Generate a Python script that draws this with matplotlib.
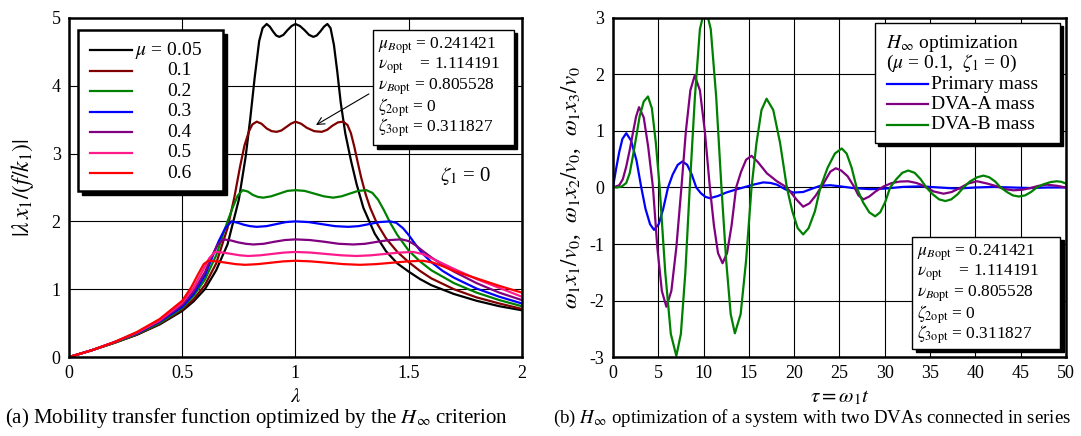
import numpy as np
import matplotlib
matplotlib.use("Agg")
import matplotlib.pyplot as plt
from matplotlib.patches import Rectangle

plt.rcParams['font.family'] = ['Liberation Serif', 'DejaVu Serif']
plt.rcParams['mathtext.fontset'] = 'stix'
plt.rcParams['axes.unicode_minus'] = False
plt.rcParams['font.size'] = 13

# ---- (a) mobility transfer function ----
mu_labels = ["$\\mu$ = 0.05", "0.1", "0.2", "0.3", "0.4", "0.5", "0.6"]
mu_colors = ["black", "#800000", "#008000", "#0000ff", "#800080", "#ff1a8c", "#ff0000"]

lam_005 = [0, 0.1, 0.2, 0.3, 0.4, 0.5, 0.55, 0.6, 0.65, 0.7, 0.75, 0.78, 0.8, 0.82, 0.84, 0.855,
           0.873, 0.887, 0.901, 0.915, 0.929, 0.947, 0.965, 0.983, 1.0, 1.02, 1.04, 1.06, 1.079,
           1.094, 1.11, 1.126, 1.141, 1.155, 1.17, 1.185, 1.2, 1.22, 1.245, 1.27, 1.3, 1.35, 1.4,
           1.45, 1.5, 1.55, 1.6, 1.7, 1.8, 1.9, 2.0]
amp_005 = [0, 0.1, 0.21, 0.33, 0.48, 0.68, 0.82, 1.0, 1.28, 1.66, 2.32, 2.95, 3.5, 4.12, 4.66, 4.85,
           4.91, 4.87, 4.8, 4.74, 4.72, 4.75, 4.82, 4.88, 4.91, 4.88, 4.82, 4.75, 4.72,
           4.74, 4.8, 4.87, 4.91, 4.85, 4.6, 4.2, 3.75, 3.3, 2.9, 2.55, 2.2, 1.82, 1.56,
           1.38, 1.26, 1.15, 1.06, 0.93, 0.83, 0.75, 0.69]

lam_01 = [0, 0.1, 0.2, 0.3, 0.4, 0.5, 0.55, 0.6, 0.65, 0.7, 0.73, 0.755, 0.775, 0.795, 0.81, 0.829,
          0.85, 0.873, 0.895, 0.917, 0.938, 0.959, 0.98, 1.0, 1.025, 1.05, 1.083, 1.116, 1.14, 1.163,
          1.188, 1.211, 1.23, 1.245, 1.26, 1.275, 1.29, 1.31, 1.33, 1.36, 1.4, 1.45, 1.5, 1.55, 1.6,
          1.7, 1.8, 1.9, 2.0]
amp_01 = [0, 0.1, 0.21, 0.33, 0.49, 0.70, 0.85, 1.06, 1.38, 1.9, 2.35, 2.8, 3.12, 3.33, 3.43, 3.47,
          3.44, 3.37, 3.33, 3.32, 3.34, 3.39, 3.44, 3.47, 3.44, 3.38, 3.33, 3.32, 3.35, 3.41,
          3.46, 3.47, 3.42, 3.3, 3.1, 2.87, 2.65, 2.4, 2.2, 1.97, 1.75, 1.55, 1.4, 1.27, 1.16,
          1.0, 0.88, 0.79, 0.71]

lam_02 = [0, 0.1, 0.2, 0.3, 0.4, 0.5, 0.55, 0.6, 0.65, 0.7, 0.725, 0.745, 0.767, 0.79, 0.812, 0.835,
          0.858, 0.893, 0.929, 0.965, 1.0, 1.04, 1.083, 1.125, 1.167, 1.204, 1.24, 1.277, 1.314,
          1.34, 1.365, 1.39, 1.42, 1.45, 1.5, 1.55, 1.6, 1.7, 1.8, 1.9, 2.0]
amp_02 = [0, 0.1, 0.21, 0.34, 0.5, 0.72, 0.9, 1.14, 1.5, 2.0, 2.22, 2.38, 2.46, 2.44, 2.39, 2.36,
          2.35, 2.37, 2.41, 2.45, 2.46, 2.45, 2.41, 2.37, 2.35, 2.37, 2.41, 2.45, 2.46,
          2.42, 2.32, 2.17, 1.97, 1.8, 1.57, 1.41, 1.28, 1.09, 0.95, 0.84, 0.75]

lam_03 = [0, 0.1, 0.2, 0.3, 0.4, 0.5, 0.55, 0.6, 0.63, 0.66, 0.69, 0.718, 0.745, 0.773, 0.8, 0.829,
          0.872, 0.915, 0.958, 1.0, 1.058, 1.116, 1.175, 1.233, 1.279, 1.325, 1.371, 1.417, 1.445,
          1.475, 1.5, 1.53, 1.56, 1.6, 1.65, 1.7, 1.8, 1.9, 2.0]
amp_03 = [0, 0.1, 0.22, 0.35, 0.52, 0.74, 0.93, 1.2, 1.45, 1.7, 1.9, 2.0, 1.98, 1.95, 1.93, 1.92,
          1.93, 1.96, 1.99, 2.0, 1.99, 1.96, 1.93, 1.92, 1.93, 1.96, 1.99, 2.0, 1.98,
          1.9, 1.8, 1.66, 1.53, 1.4, 1.27, 1.17, 1.01, 0.89, 0.79]

lam_04 = [0, 0.1, 0.2, 0.3, 0.4, 0.5, 0.55, 0.6, 0.63, 0.655, 0.681, 0.714, 0.748, 0.781, 0.814, 0.86,
          0.907, 0.953, 1.0, 1.064, 1.128, 1.191, 1.255, 1.308, 1.362, 1.415, 1.469, 1.5, 1.53, 1.56,
          1.6, 1.65, 1.7, 1.8, 1.9, 2.0]
amp_04 = [0, 0.1, 0.22, 0.36, 0.53, 0.77, 0.97, 1.25, 1.48, 1.65, 1.735, 1.72, 1.69, 1.67, 1.66, 1.67,
          1.7, 1.725, 1.735, 1.725, 1.7, 1.67, 1.66, 1.67, 1.7, 1.725, 1.735, 1.71, 1.65, 1.57,
          1.47, 1.36, 1.26, 1.09, 0.95, 0.84]

lam_05 = [0, 0.1, 0.2, 0.3, 0.4, 0.5, 0.55, 0.59, 0.62, 0.645, 0.682, 0.718, 0.755, 0.792, 0.844, 0.896,
          0.948, 1.0, 1.068, 1.135, 1.203, 1.27, 1.333, 1.395, 1.458, 1.52, 1.56, 1.6, 1.65, 1.7,
          1.8, 1.9, 2.0]
amp_05 = [0, 0.1, 0.22, 0.36, 0.54, 0.8, 1.02, 1.27, 1.46, 1.55, 1.54, 1.52, 1.5, 1.49, 1.5, 1.52,
          1.54, 1.55, 1.54, 1.52, 1.5, 1.49, 1.5, 1.52, 1.54, 1.55, 1.52, 1.46, 1.38, 1.3,
          1.15, 1.02, 0.89]

lam_06 = [0, 0.1, 0.2, 0.3, 0.4, 0.5, 0.54, 0.57, 0.595, 0.615, 0.655, 0.696, 0.736, 0.777, 0.833,
          0.889, 0.944, 1.0, 1.071, 1.143, 1.214, 1.285, 1.355, 1.425, 1.494, 1.564, 1.61, 1.65,
          1.7, 1.8, 1.9, 2.0]
amp_06 = [0, 0.1, 0.22, 0.37, 0.56, 0.83, 1.03, 1.22, 1.37, 1.42, 1.41, 1.39, 1.37, 1.36, 1.37,
          1.39, 1.41, 1.42, 1.41, 1.39, 1.37, 1.36, 1.37, 1.39, 1.41, 1.42, 1.39, 1.34,
          1.27, 1.16, 1.05, 0.95]

curves_a = [(lam_005, amp_005), (lam_01, amp_01), (lam_02, amp_02), (lam_03, amp_03),
            (lam_04, amp_04), (lam_05, amp_05), (lam_06, amp_06)]

# ---- (b) free vibration responses ----
t_prim = [0, 0.35, 0.7, 1.05, 1.47, 2.0, 2.6, 3.13, 3.6, 4.1, 4.54, 5.05, 5.55, 6.08, 6.6, 7.15, 7.67,
          8.2, 8.7, 9.2, 9.7, 10.2, 10.7, 11.6, 12.5, 13.5, 14.4, 15.5, 16.6, 17.4, 18.1, 19.0,
          19.9, 21.0, 22.0, 22.9, 24.0, 25.1, 26.5, 28.4, 30.0, 32.0, 34.0, 36.0, 38.0, 40.0, 42.0,
          44.0, 46.0, 48.0, 50]
x_prim = [0, 0.33, 0.63, 0.86, 0.96, 0.83, 0.48, 0, -0.38, -0.65, -0.75, -0.65, -0.38, 0, 0.23, 0.4,
          0.46, 0.4, 0.23, 0, -0.1, -0.165, -0.19, -0.15, -0.09, -0.04, 0.0, 0.05, 0.09, 0.08,
          0.05, -0.03, -0.09, -0.08, -0.02, 0.03, 0.04, 0.02, -0.01, -0.03, -0.02, 0.01, 0.02, 0.0,
          -0.02, 0.0, 0.01, 0.0, -0.01, 0.0, 0.0]

t_dva_a = [0, 0.7, 1.1, 1.47, 1.85, 2.2, 2.55, 2.88, 3.4, 3.9, 4.42, 4.9, 5.4, 5.9, 6.45, 7.0, 7.56,
           8.05, 8.55, 9.03, 9.6, 10.15, 10.7, 11.15, 11.6, 12.1, 12.6, 13.1, 13.6, 14.15, 14.7,
           15.3, 16.0, 17.0, 18.1, 19.2, 20.3, 21.0, 21.7, 22.4, 23.2, 24.0, 24.6, 25.2, 25.9,
           26.6, 27.1, 27.66, 28.3, 29.0, 29.9, 30.8, 31.7, 32.6, 33.5, 34.0, 34.6, 35.4, 36.5,
           37.4, 38.3, 39.2, 40.2, 41.3, 42.4, 43.3, 44.2, 45.2, 46.1, 47.0, 47.9, 49.0, 50]
x_dva_a = [0, 0.04, 0.15, 0.37, 0.66, 0.96, 1.25, 1.42, 1.24, 0.71, 0, -1.06, -1.83, -2.11, -1.83,
           -1.06, 0, 0.99, 1.72, 1.98, 1.72, 0.99, 0, -0.67, -1.16, -1.34, -1.16, -0.67, 0, 0.28,
           0.49, 0.56, 0.45, 0.25, 0.11, 0, -0.22, -0.34, -0.28, -0.14, 0.06, 0.28, 0.34, 0.3,
           0.2, 0.02, -0.14, -0.21, -0.16, -0.07, 0.02, 0.08, 0.105, 0.11, 0.08, 0.05, 0.0, -0.07,
           -0.11, -0.08, -0.01, 0.07, 0.11, 0.07, 0.02, -0.03, -0.05, -0.04, -0.01, 0.03, 0.05,
           0.03, 0.0]

t_dva_b = [0, 0.5, 1.0, 1.47, 1.85, 2.2, 2.6, 2.95, 3.4, 3.87, 4.3, 4.73, 5.16, 5.77, 6.39, 7.0, 7.5,
           8.0, 8.48, 9.05, 9.6, 10.2, 10.8, 11.4, 11.98, 12.5, 13.0, 13.46, 14.1, 14.7, 15.3, 15.85,
           16.4, 16.96, 17.7, 18.45, 19.2, 19.8, 20.4, 21.0, 21.6, 22.3, 22.9, 23.7, 24.5, 25.26,
           25.8, 26.35, 26.9, 27.6, 28.3, 28.95, 29.5, 30.05, 30.6, 31.3, 31.95, 32.6, 33.3, 33.95,
           34.6, 35.3, 36.0, 36.7, 37.35, 38.05, 38.7, 39.4, 40.2, 40.9, 41.55, 42.2, 42.8, 43.5,
           44.15, 44.8, 45.5, 46.15, 46.8, 47.5, 48.3, 49.0, 49.5, 50]
x_dva_b = [0, 0, 0.02, 0.08, 0.25, 0.55, 0.92, 1.26, 1.52, 1.61, 1.40, 0.80, 0, -1.49, -2.59, -2.98,
           -2.59, -1.49, 0, 1.6, 2.8, 3.2, 2.8, 1.6, 0, -1.29, -2.24, -2.58, -2.24, -1.29, 0, 0.79,
           1.37, 1.57, 1.37, 0.79, 0, -0.42, -0.72, -0.83, -0.72, -0.42, 0, 0.35, 0.6, 0.69,
           0.6, 0.35, 0, -0.26, -0.44, -0.51, -0.44, -0.26, 0, 0.15, 0.26, 0.30, 0.26, 0.15,
           0, -0.12, -0.21, -0.24, -0.21, -0.12, 0, 0.105, 0.18, 0.21, 0.18, 0.105, 0, -0.08,
           -0.14, -0.16, -0.14, -0.08, 0, 0.055, 0.095, 0.11, 0.1, 0.07]

opt_lines = ["$\\mu_{B\\mathrm{opt}}$ = 0.241421",
             "$\\nu_{\\mathrm{opt}}$    = 1.114191",
             "$\\nu_{B\\mathrm{opt}}$ = 0.805528",
             "$\\zeta_{2\\mathrm{opt}}$ = 0",
             "$\\zeta_{3\\mathrm{opt}}$ = 0.311827"]


def shadow_box(ax, x0, y0, w, h, lw=1.0, off=0.008):
    # white box with a solid black drop shadow, axes coords
    ax.add_patch(Rectangle((x0 + off, y0 - off * 1.3), w, h, transform=ax.transAxes,
                           facecolor="black", edgecolor="black", zorder=5, clip_on=False))
    ax.add_patch(Rectangle((x0, y0), w, h, transform=ax.transAxes, facecolor="white",
                           edgecolor="black", linewidth=lw, zorder=6, clip_on=False))


def opt_box(ax, x0, y_top, w, h):
    shadow_box(ax, x0, y_top - h, w, h)
    for i, s in enumerate(opt_lines):
        ax.text(x0 + 0.01, y_top - 0.046 - i * 0.061, s, transform=ax.transAxes, fontsize=12.5,
                va="center", ha="left", zorder=7)


fig = plt.figure(figsize=(10.81, 4.36), dpi=100)
ax1 = fig.add_axes([0.0638, 0.181, 0.419, 0.778])
ax2 = fig.add_axes([0.567, 0.181, 0.419, 0.778])

for ax in (ax1, ax2):
    for sp in ax.spines.values():
        sp.set_linewidth(1.8)
    ax.tick_params(length=0, pad=6, labelsize=13)
    ax.grid(True, color="black", linewidth=0.8)
    ax.set_axisbelow(True)

# (a)
for (lam, amp), c in zip(curves_a, mu_colors):
    ax1.plot(lam, amp, color=c, linewidth=1.6)
ax1.set_xlim(0, 2)
ax1.set_ylim(0, 5)
ax1.set_xticks([0, 0.5, 1, 1.5, 2])
ax1.set_xticklabels(["0", "0.5", "1", "1.5", "2"])
ax1.set_yticks([0, 1, 2, 3, 4, 5])
ax1.set_xlabel("$\\lambda$", fontsize=15, labelpad=4)
ax1.set_ylabel("$|\\lambda\\, x_1/(f/k_1)|$", fontsize=17, labelpad=11)

# legend of (a), drawn by hand
shadow_box(ax1, 0.02, 0.49, 0.32, 0.475, lw=1.8, off=0.009)
for i, (lab, c) in enumerate(zip(mu_labels, mu_colors)):
    yy = 0.905 - i * 0.0605
    ax1.plot([0.047, 0.14], [yy, yy], color=c, linewidth=1.6, transform=ax1.transAxes,
             zorder=7, clip_on=False)
    xt = 0.145 if i == 0 else 0.218
    ax1.text(xt, yy, lab, transform=ax1.transAxes, fontsize=14, va="center", ha="left", zorder=7)

opt_box(ax1, 0.672, 0.965, 0.31, 0.34)
ax1.annotate("", xy=(1.08, 3.4), xytext=(1.335, 3.9),
             arrowprops=dict(arrowstyle="->", color="black", linewidth=0.8), zorder=8)
ax1.text(1.75, 2.67, "$\\zeta_1$ = 0", fontsize=15, ha="center", va="center")

# (b)
ax2.plot(t_prim, x_prim, color="#0000ff", linewidth=1.6)
ax2.plot(t_dva_a, x_dva_a, color="#800080", linewidth=1.6)
ax2.plot(t_dva_b, x_dva_b, color="#008000", linewidth=1.6)
ax2.set_xlim(0, 50)
ax2.set_ylim(-3, 3)
ax2.set_xticks(np.arange(0, 51, 5))
ax2.set_yticks(np.arange(-3, 4, 1))
ax2.set_xlabel("$\\tau = \\omega_1 t$", fontsize=15, labelpad=4)
ax2.set_ylabel("$\\omega_1 x_1/v_0$,  $\\omega_1 x_2/v_0$,  $\\omega_1 x_3/v_0$", fontsize=16.5,
               labelpad=5)

# legend of (b), drawn by hand
shadow_box(ax2, 0.578, 0.632, 0.408, 0.354)
ax2.text(0.602, 0.925, "$H_\\infty$ optimization", transform=ax2.transAxes, fontsize=14,
         va="center", zorder=7)
ax2.text(0.602, 0.866, "($\\mu$ = 0.1,  $\\zeta_1$ = 0)", transform=ax2.transAxes, fontsize=14,
         va="center", zorder=7)
for i, (lab, c) in enumerate(zip(["Primary mass", "DVA-A mass", "DVA-B mass"],
                                 ["#0000ff", "#800080", "#008000"])):
    yy = 0.805 - i * 0.06
    ax2.plot([0.605, 0.696], [yy, yy], color=c, linewidth=1.6, transform=ax2.transAxes, zorder=7)
    ax2.text(0.703, yy, lab, transform=ax2.transAxes, fontsize=14, va="center", zorder=7)

opt_box(ax2, 0.661, 0.355, 0.326, 0.33)

fig.text(5 / 1081, 0.03, "(a) Mobility transfer function optimized by the $H_\\infty$ criterion",
         ha="left", fontsize=15)
fig.text(553 / 1081, 0.03, "(b) $H_\\infty$ optimization of a system with two DVAs connected in series",
         ha="left", fontsize=13.6)

fig.savefig("out.png", dpi=100)
